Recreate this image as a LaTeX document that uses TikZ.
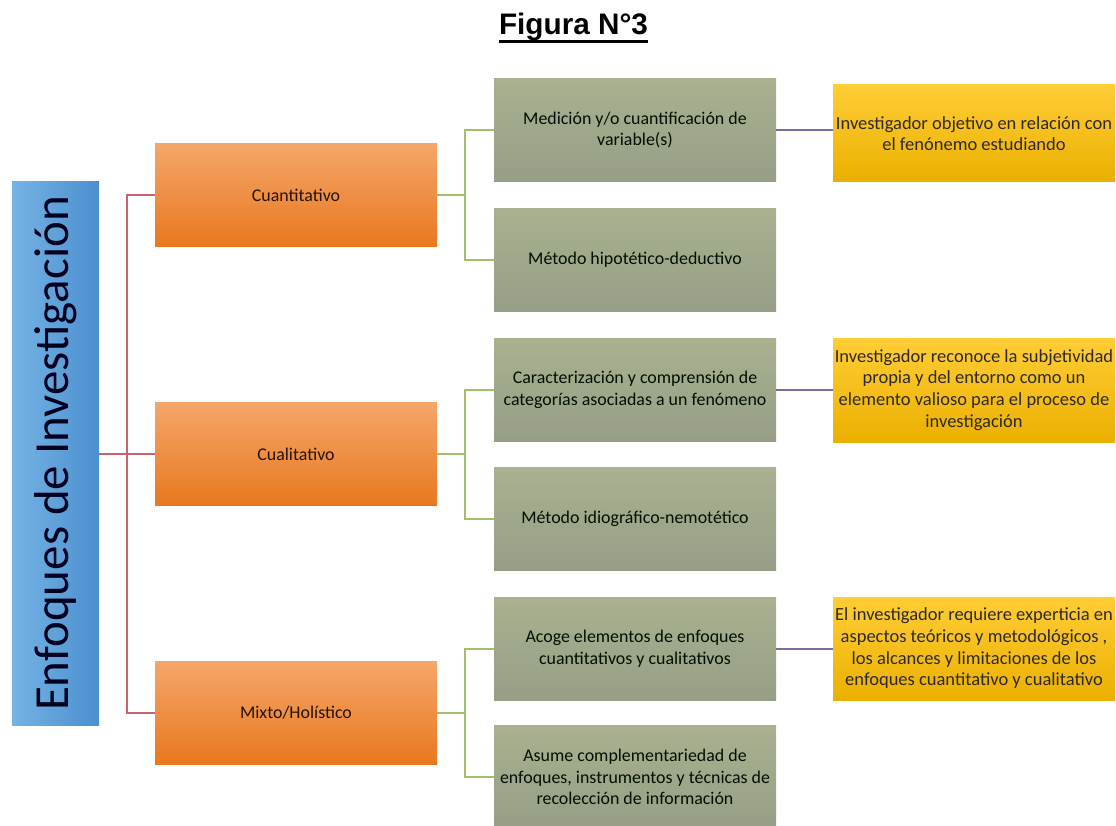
\documentclass[tikz,border=0pt]{standalone}
\usepackage{fontspec}
\setmainfont{Carlito}
\newfontfamily\titlefont{Liberation Sans}
\usetikzlibrary{positioning,calc}
\definecolor{blueA}{HTML}{74B3E4}
\definecolor{blueB}{HTML}{4C8FCF}
\definecolor{orangeA}{HTML}{F5A66A}
\definecolor{orangeB}{HTML}{F78D33}
\definecolor{orangeC}{HTML}{E8781F}
\definecolor{greenA}{HTML}{A9B190}
\definecolor{greenB}{HTML}{9FC15A}
\definecolor{greenC}{HTML}{969E86}
\definecolor{yellowA}{HTML}{FFCD35}
\definecolor{yellowB}{HTML}{FFC106}
\definecolor{yellowC}{HTML}{EBB000}
\definecolor{lineR}{HTML}{C9636B}
\definecolor{lineG}{HTML}{A3BE6C}
\definecolor{lineP}{HTML}{8068A6}

\tikzset{
  caja/.style={rectangle, inner sep=0pt, align=center, minimum width=282pt,
    minimum height=103pt, font=\fontsize{17.9}{21.7}\selectfont},
  tema/.style={caja, top color=orangeA, middle color=orangeB, bottom color=orangeC,
    text=black!75!orange!60!black},
  rasgo/.style={caja, top color=greenA, middle color=greenB, bottom color=greenC,
    text=black!85!green!40!black},
  rol/.style={caja, top color=yellowA, middle color=yellowB, bottom color=yellowC,
    text=black!85!yellow!30!black, font=\fontsize{18.5}{21.7}\selectfont},
  raiz/.style={rectangle, inner sep=0pt, minimum width=87pt, minimum height=543pt,
    left color=blueA, right color=blueB},
  rama/.style={line width=2pt},
}

\begin{document}
\begin{tikzpicture}[x=1pt,y=-1pt]
\useasboundingbox (0,0) rectangle (1116,826);
% titulo
\node[inner sep=0pt, anchor=base, font=\titlefont\bfseries\fontsize{29.7}{34}\selectfont] (titulo) at (573.5,35) {Figura N°3};
\draw[line width=3pt] ([yshift=-6.5pt]titulo.base west) -- ([yshift=-6.5pt]titulo.base east);

% raiz
\node[raiz] (enfoques) at (55.5,453.5) {};
\node[rotate=90, font=\fontsize{49}{58}\selectfont, text=black!80!blue!60!black] at (enfoques.center) {Enfoques de Investigación};

% enfoques
\node[tema] (cuanti) at (296,195) {Cuantitativo};
\node[tema] (cuali) at (296,454) {Cualitativo};
\node[tema] (mixto) at (296,713) {Mixto/Holístico};

% rasgos
\node[rasgo] (medicion) at (635,130) {Medición y/o cuantificación de\\variable(s)};
\node[rasgo] (hipotetico) at (635,260) {Método hipotético-deductivo};
\node[rasgo] (caract) at (635,390) {Caracterización y comprensión de\\categorías asociadas a un fenómeno};
\node[rasgo] (idiografico) at (635,519) {Método idiográfico-nemotético};
\node[rasgo] (acoge) at (635,649) {Acoge elementos de enfoques\\cuantitativos y cualitativos};
\node[rasgo] (asume) at (635,777) {Asume complementariedad de\\enfoques, instrumentos y técnicas de\\recolección de información};

% investigador
\node[rol, minimum height=97pt] (objetivo) at (974,133.5) {Investigador objetivo en relación con\\el fenónemo estudiando};
\node[rol, minimum height=104pt] (subjetivo) at (974,390) {Investigador reconoce la subjetividad\\propia y del entorno como un\\elemento valioso para el proceso de\\investigación};
\node[rol] (experto) at (974,648.5) {El investigador requiere experticia en\\aspectos teóricos y metodológicos ,\\los alcances y limitaciones de los\\enfoques cuantitativo y cualitativo};

% conectores
\coordinate (rj) at (127,454);
\draw[rama, lineR] (enfoques.east |- rj) -- (rj);
\draw[rama, lineR] (cuanti.west) -| (rj) |- (mixto.west);
\draw[rama, lineR] (rj) -- (cuali.west);

\foreach \t/\a/\b in {cuanti/medicion/hipotetico, cuali/caract/idiografico, mixto/acoge/asume}{
  \draw[rama, lineG] (\t.east) -- ++(28,0) coordinate (v-\t);
  \draw[rama, lineG] (\a.west) -| (v-\t) |- (\b.west);
}

\draw[rama, lineP] (medicion.east) -- (medicion.east -| objetivo.west);
\draw[rama, lineP] (caract.east) -- (caract.east -| subjetivo.west);
\draw[rama, lineP] (acoge.east) -- (acoge.east -| experto.west);
\end{tikzpicture}
\end{document}
